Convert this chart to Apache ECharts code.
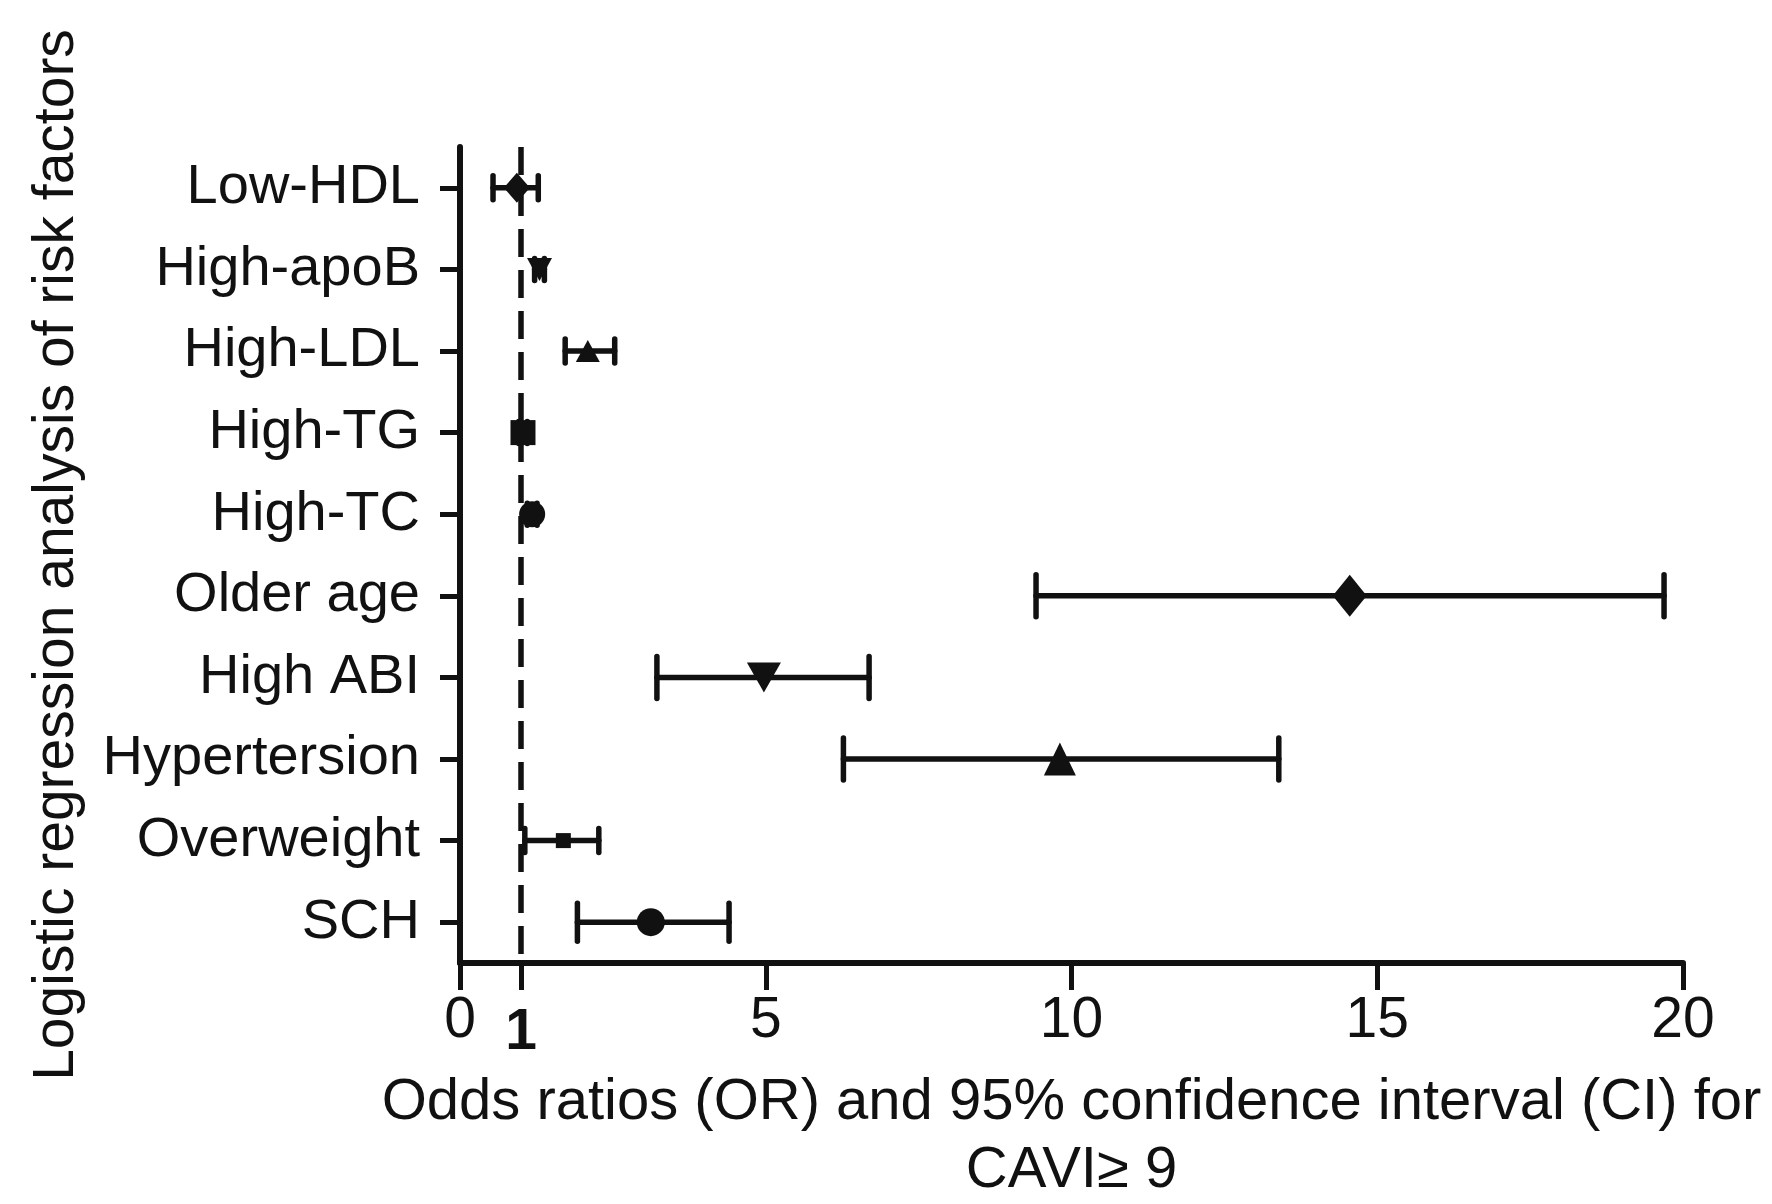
<!DOCTYPE html>
<html>
<head>
<meta charset="utf-8">
<script src="https://cdn.jsdelivr.net/npm/echarts@6/dist/echarts.min.js"></script>
<style>
html,body{margin:0;padding:0;background:#fff;}
#chart{width:1772px;height:1204px;}
</style>
</head>
<body>
<div id="chart"></div>
<script>
const categories = ['Low-HDL','High-apoB','High-LDL','High-TG','High-TC','Older age','High ABI','Hypertersion','Overweight','SCH'];
const oddsRatio = [0.93, 1.30, 2.09, 1.03, 1.18, 14.55, 4.97, 9.81, 1.69, 3.12];
const ciLower   = [0.54, 1.22, 1.72, 0.96, 1.10, 9.42, 3.22, 6.27, 1.06, 1.92];
const ciUpper   = [1.28, 1.38, 2.53, 1.10, 1.26, 19.69, 6.69, 13.39, 2.27, 4.40];
const xTicks = [0, 1, 5, 10, 15, 20];
const refValue = 1;

// styles (not data)
const TRI_DOWN = 'path://M0,0L2,0L1,2Z';
const markerSymbols = ['diamond', TRI_DOWN, 'triangle', 'rect', 'circle', 'diamond', TRI_DOWN, 'triangle', 'rect', 'circle'];
const markerSizes = [[26,30],[25,23],[24,22],[25,25],[26,26],[34,42],[34,30],[32,33],[15,15],[28,28]];
const capHalf = [12, 11, 12, 11, 11, 21, 21, 21, 12, 19];

const INK = '#111';
const FONT = 'Liberation Sans, Arial, sans-serif';

const errData = categories.map((c, i) => [i, ciLower[i], ciUpper[i]]);
const ptData = categories.map((c, i) => ({
  value: [oddsRatio[i], i],
  symbol: markerSymbols[i],
  symbolSize: markerSizes[i]
}));

const chart = echarts.init(document.getElementById('chart'));
chart.setOption({
  backgroundColor: '#fff',
  animation: false,
  grid: { left: 460, right: 89, top: 147, bottom: 241, outerBoundsMode: 'none', containLabel: false },
  xAxis: {
    type: 'value', min: 0, max: 20,
    splitLine: { show: false },
    axisLine: { show: true, lineStyle: { color: INK, width: 6 } },
    axisTick: { show: true, customValues: xTicks, length: 27, lineStyle: { color: INK, width: 5 } },
    axisLabel: {
      customValues: xTicks, margin: 30, color: INK, fontFamily: FONT, fontSize: 57,
      formatter: v => v === 1 ? '{b|1}' : String(v),
      rich: { b: { fontWeight: 'bold', fontSize: 57, fontFamily: FONT, color: INK, padding: [12,0,0,0] } }
    },
    name: 'Odds ratios (OR) and 95% confidence interval (CI) for\nCAVI≥ 9',
    nameLocation: 'middle', nameGap: 106,
    nameTextStyle: { color: INK, fontFamily: FONT, fontSize: 58, lineHeight: 68 }
  },
  yAxis: {
    type: 'category', data: categories, inverse: true,
    axisLine: { show: true, lineStyle: { color: INK, width: 6 } },
    axisTick: { show: true, alignWithLabel: true, length: 20, lineStyle: { color: INK, width: 5 } },
    axisLabel: { margin: 40, color: INK, fontFamily: FONT, fontSize: 56 },
    splitLine: { show: false },
    name: 'Logistic regression analysis of risk factors',
    nameLocation: 'middle', nameGap: 374, nameRotate: 90,
    nameTextStyle: { color: INK, fontFamily: FONT, fontSize: 57 }
  },
  series: [
    {
      type: 'custom',
      data: errData,
      encode: { x: [1, 2], y: 0 },
      z: 2,
      renderItem: function (params, api) {
        const i = api.value(0);
        const p1 = api.coord([api.value(1), i]);
        const p2 = api.coord([api.value(2), i]);
        const h = capHalf[i];
        const st = { stroke: INK, lineWidth: 5.5, lineCap: 'round' };
        return {
          type: 'group',
          children: [
            { type: 'line', shape: { x1: p1[0], y1: p1[1], x2: p2[0], y2: p2[1] }, style: st },
            { type: 'line', shape: { x1: p1[0], y1: p1[1] - h, x2: p1[0], y2: p1[1] + h }, style: st },
            { type: 'line', shape: { x1: p2[0], y1: p2[1] - h, x2: p2[0], y2: p2[1] + h }, style: st }
          ]
        };
      }
    },
    {
      type: 'scatter',
      data: ptData,
      z: 3,
      itemStyle: { color: INK, opacity: 1 },
      markLine: {
        silent: true, symbol: ['none', 'none'], label: { show: false },
        lineStyle: { color: INK, width: 5.5, type: [28, 13] },
        data: [{ xAxis: refValue }]
      }
    }
  ]
});
</script>
</body>
</html>
